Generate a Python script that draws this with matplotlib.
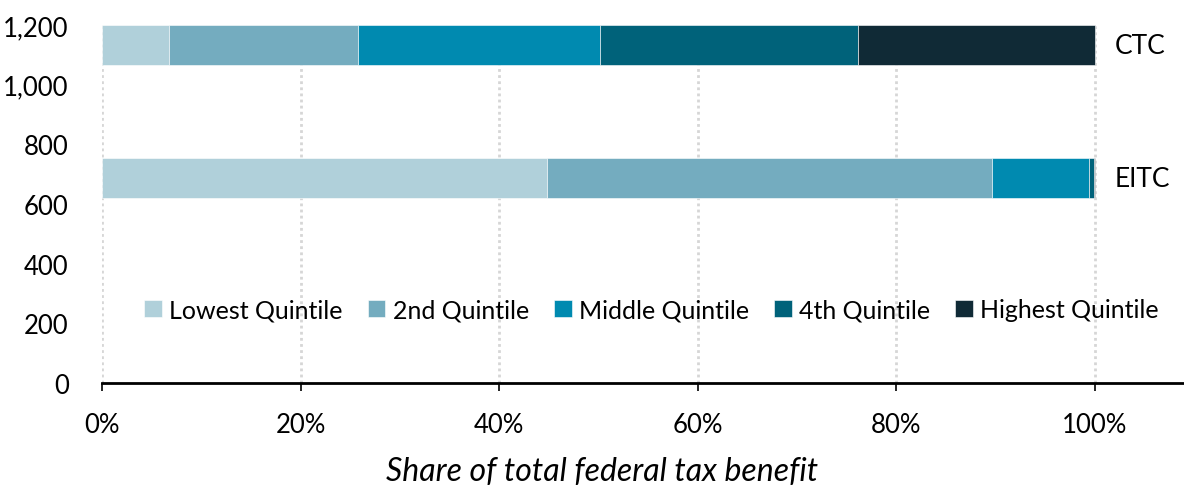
import matplotlib.pyplot as plt
from matplotlib.ticker import FuncFormatter

# share of total federal tax benefit by quintile (%)
programs = ["CTC", "EITC"]
quintiles = ["Lowest Quintile", "2nd Quintile", "Middle Quintile", "4th Quintile", "Highest Quintile"]
ctc = [6.7, 19.1, 24.4, 26.0, 23.8]
eitc = [44.8, 44.9, 9.7, 0.5, 0.1]
colors = ["#B0D0DA", "#74ACBF", "#008AB0", "#00627A", "#102A36"]

bar_pos = [1132, 687]

plt.rcParams['font.family'] = ['Lato', 'DejaVu Sans']

fig = plt.figure(figsize=(11.84, 4.89), dpi=100)
ax = fig.add_axes([102 / 1184, 105 / 489, 1 - 102 / 1184, 358 / 489])

left = [0, 0]
for i, q in enumerate(quintiles):
    vals = [ctc[i], eitc[i]]
    ax.barh(bar_pos, vals, left=left, height=135, color=colors[i], label=q,
            edgecolor="white", linewidth=0.4, zorder=3)
    left = [left[0] + vals[0], left[1] + vals[1]]

for name, y in zip(programs, bar_pos):
    ax.text(102, y, name, va="center", ha="left", fontsize=19)

ax.set_xlim(0, 109)
ax.set_ylim(0, 1200)
ax.set_xticks([0, 20, 40, 60, 80, 100])
ax.xaxis.set_major_formatter(FuncFormatter(lambda v, p: f"{v:.0f}%"))
ax.set_yticks(range(0, 1201, 200))
ax.yaxis.set_major_formatter(FuncFormatter(lambda v, p: f"{v:,.0f}"))

ax.grid(axis="x", color="#D6D6D6", linestyle=(0, (1, 1.2)), linewidth=2, zorder=0)
for s in ["top", "right", "left"]:
    ax.spines[s].set_visible(False)
ax.spines["bottom"].set_linewidth(2)
ax.tick_params(axis="x", length=6, width=1.2, labelsize=18.5, pad=15)
ax.tick_params(axis="y", length=0, labelsize=18.5, pad=24)

ax.set_xlabel("Share of total federal tax benefit", fontsize=23, style="italic")
ax.xaxis.set_label_coords(0.462, -0.205)

ax.legend(loc="center", bbox_to_anchor=(0.508, 0.204), ncol=5, frameon=False, fontsize=18,
          handlelength=0.7, handleheight=0.7, handletextpad=0.3, columnspacing=1.0)

fig.savefig("out.png", dpi=100)
